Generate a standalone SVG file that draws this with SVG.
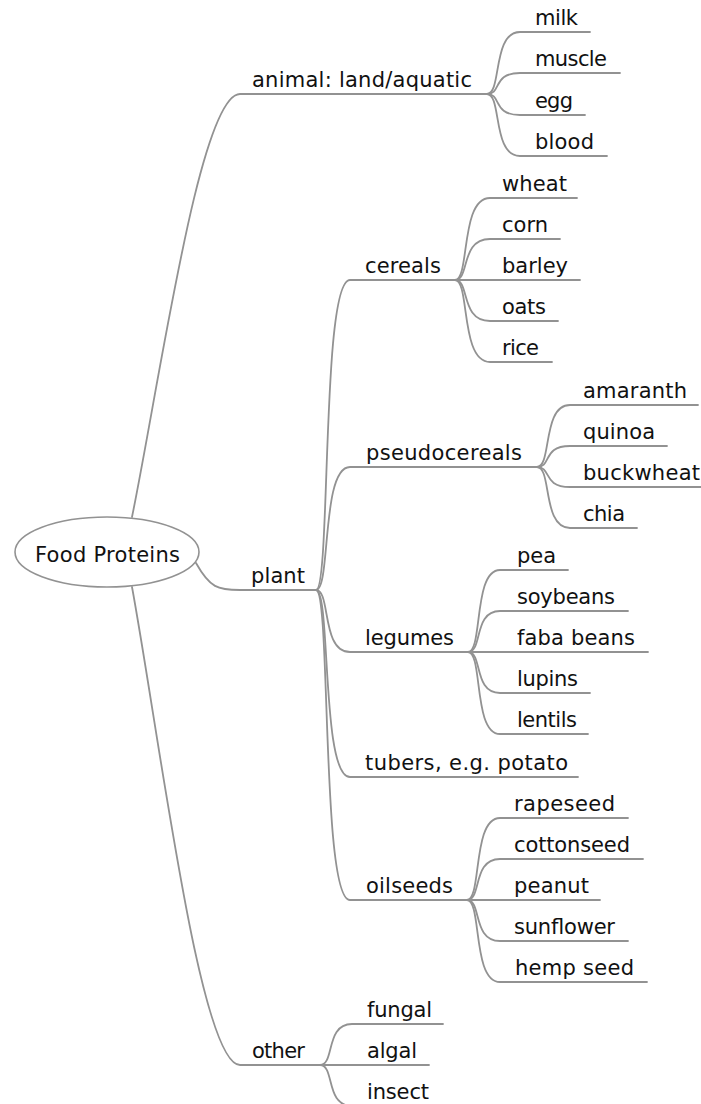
<svg xmlns="http://www.w3.org/2000/svg" width="701" height="1104" viewBox="0 0 701 1104">
<style>
.e{fill:none;stroke:#929292;stroke-width:1.8;stroke-linecap:round}
.t{font-family:"DejaVu Sans",sans-serif;font-size:21px;fill:#111}
.r{fill:#fff;stroke:#929292;stroke-width:1.6}
</style>
<rect width="701" height="1104" fill="#fff"/>
<g id="connectors">
<path class="e" d="M132,517 C160,380 200,94 240,94 L487,94"/>
<path class="e" d="M196,563 C210,588 218,590 240,590 L316,590"/>
<path class="e" d="M132,587 C160,740 200,1065 240,1065 L320,1065"/>
<path class="e" d="M487,94 C502,94 492,32 520,32 L590,32"/>
<path class="e" d="M487,94 C502,94 492,73 520,73 L620,73"/>
<path class="e" d="M487,94 C502,94 492,115 520,115 L585,115"/>
<path class="e" d="M487,94 C502,94 492,156 520,156 L607,156"/>
<path class="e" d="M316,590 C331,590 321,280 350,280 L455,280"/>
<path class="e" d="M316,590 C331,590 321,467 350,467 L537,467"/>
<path class="e" d="M316,590 C331,590 321,652 350,652 L468,652"/>
<path class="e" d="M316,590 C331,590 321,777 350,777 L578,777"/>
<path class="e" d="M316,590 C331,590 321,900 350,900 L467,900"/>
<path class="e" d="M455,280 C470,280 460,198 490,198 L577,198"/>
<path class="e" d="M455,280 C470,280 460,239 490,239 L560,239"/>
<path class="e" d="M455,280 L580,280"/>
<path class="e" d="M455,280 C470,280 460,321 490,321 L558,321"/>
<path class="e" d="M455,280 C470,280 460,362 490,362 L552,362"/>
<path class="e" d="M537,467 C552,467 542,405 570,405 L698,405"/>
<path class="e" d="M537,467 C552,467 542,446 570,446 L667,446"/>
<path class="e" d="M537,467 C552,467 542,487 570,487 L701,487"/>
<path class="e" d="M537,467 C552,467 542,528 570,528 L637,528"/>
<path class="e" d="M468,652 C483,652 473,570 500,570 L568,570"/>
<path class="e" d="M468,652 C483,652 473,611 500,611 L628,611"/>
<path class="e" d="M468,652 L648,652"/>
<path class="e" d="M468,652 C483,652 473,693 500,693 L590,693"/>
<path class="e" d="M468,652 C483,652 473,734 500,734 L588,734"/>
<path class="e" d="M467,900 C482,900 472,818 500,818 L628,818"/>
<path class="e" d="M467,900 C482,900 472,859 500,859 L643,859"/>
<path class="e" d="M467,900 L600,900"/>
<path class="e" d="M467,900 C482,900 472,941 500,941 L628,941"/>
<path class="e" d="M467,900 C482,900 472,982 500,982 L647,982"/>
<path class="e" d="M320,1065 C335,1065 325,1024 352,1024 L443,1024"/>
<path class="e" d="M320,1065 L429,1065"/>
<path class="e" d="M320,1065 C335,1065 325,1106 352,1106 L441,1106"/>
</g>
<g id="root">
<ellipse class="r" cx="107" cy="552" rx="92" ry="35"/>
<text class="t" x="35" y="562" textLength="145">Food Proteins</text>
</g>
<g id="animal"><text class="t" x="252" y="87" textLength="220">animal: land/aquatic</text></g>
<g id="milk"><text class="t" x="535" y="25" textLength="43">milk</text></g>
<g id="muscle"><text class="t" x="535" y="66" textLength="72">muscle</text></g>
<g id="egg"><text class="t" x="535" y="108" textLength="38">egg</text></g>
<g id="blood"><text class="t" x="535" y="149" textLength="59">blood</text></g>
<g id="plant"><text class="t" x="251" y="583" textLength="54">plant</text></g>
<g id="cereals"><text class="t" x="365" y="273" textLength="76">cereals</text></g>
<g id="wheat"><text class="t" x="502" y="191" textLength="65">wheat</text></g>
<g id="corn"><text class="t" x="502" y="232" textLength="46">corn</text></g>
<g id="barley"><text class="t" x="502" y="273" textLength="66">barley</text></g>
<g id="oats"><text class="t" x="502" y="314" textLength="44">oats</text></g>
<g id="rice"><text class="t" x="502" y="355" textLength="37">rice</text></g>
<g id="pseudocereals"><text class="t" x="366" y="460" textLength="156">pseudocereals</text></g>
<g id="amaranth"><text class="t" x="583" y="398" textLength="104">amaranth</text></g>
<g id="quinoa"><text class="t" x="583" y="439" textLength="72">quinoa</text></g>
<g id="buckwheat"><text class="t" x="583" y="480" textLength="117">buckwheat</text></g>
<g id="chia"><text class="t" x="583" y="521" textLength="42">chia</text></g>
<g id="legumes"><text class="t" x="365" y="645" textLength="89">legumes</text></g>
<g id="pea"><text class="t" x="517" y="563" textLength="39">pea</text></g>
<g id="soybeans"><text class="t" x="517" y="604" textLength="98">soybeans</text></g>
<g id="faba"><text class="t" x="517" y="645" textLength="118">faba beans</text></g>
<g id="lupins"><text class="t" x="517" y="686" textLength="61">lupins</text></g>
<g id="lentils"><text class="t" x="517" y="727" textLength="60">lentils</text></g>
<g id="tubers"><text class="t" x="365" y="770" textLength="203">tubers, e.g. potato</text></g>
<g id="oilseeds"><text class="t" x="366" y="893" textLength="87">oilseeds</text></g>
<g id="rapeseed"><text class="t" x="514" y="811" textLength="101">rapeseed</text></g>
<g id="cottonseed"><text class="t" x="514" y="852" textLength="116">cottonseed</text></g>
<g id="peanut"><text class="t" x="514" y="893" textLength="75">peanut</text></g>
<g id="sunflower"><text class="t" x="514" y="934" textLength="101">sunflower</text></g>
<g id="hemp"><text class="t" x="515" y="975" textLength="119">hemp seed</text></g>
<g id="other"><text class="t" x="252" y="1058" textLength="53">other</text></g>
<g id="fungal"><text class="t" x="367" y="1017" textLength="65">fungal</text></g>
<g id="algal"><text class="t" x="367" y="1058" textLength="50">algal</text></g>
<g id="insect"><text class="t" x="367" y="1099" textLength="62">insect</text></g>
</svg>
